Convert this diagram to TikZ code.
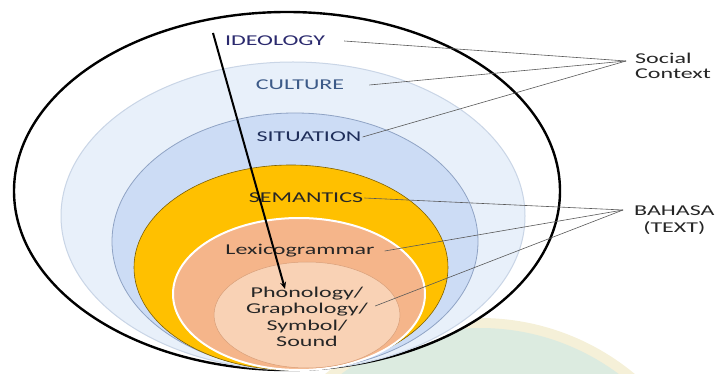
\documentclass[tikz,border=0pt]{standalone}
\usepackage{fontspec}
\newfontfamily\lblfont[FakeStretch=1.6]{Carlito}
\usetikzlibrary{positioning, arrows.meta, shapes.geometric}

\definecolor{ideoblue}{HTML}{2B2A6E}
\definecolor{cultblue}{HTML}{3C5A88}
\definecolor{situblue}{HTML}{1F2E5A}
\definecolor{cultfill}{HTML}{E8F0FA}
\definecolor{cultline}{HTML}{C9D5E6}
\definecolor{situfill}{HTML}{CCDCF5}
\definecolor{situline}{HTML}{8FA3C4}
\definecolor{semafill}{HTML}{FFC000}
\definecolor{semaline}{HTML}{7F6000}
\definecolor{lexifill}{HTML}{F5B58A}
\definecolor{phonfill}{HTML}{F9D2B5}
\definecolor{phonline}{HTML}{D9A07A}
\definecolor{wmgreen}{HTML}{DCEBE0}
\definecolor{wmyellow}{HTML}{F5F0D8}

\begin{document}
\begin{tikzpicture}[
  x=1pt, y=-1pt,
  font=\lblfont\fontsize{15}{16.5}\selectfont,
  ring/.style={ellipse, inner sep=0pt},
  lbl/.style={inner sep=1pt, align=center, text=black!85},
  lnk/.style={gray!70!black, line width=0.6pt}
]
\useasboundingbox (0,0) rectangle (715,374);

% --- watermark behind the rings ---
\begin{scope}
  \clip (0,0) rectangle (715,374);
  \fill[wmyellow] (480,560) circle (242);
  \fill[wmgreen]  (480,560) circle (232);
\end{scope}

% --- nested rings, outside in ---
\node[ring, draw=black, line width=2.4pt, fill=white,
      minimum width=546, minimum height=358] (outer) at (287,191) {};
\node[ring, draw=cultline, line width=1pt, fill=cultfill,
      minimum width=464, minimum height=308] (culture) at (293,216) {};
\node[ring, draw=situline, line width=0.8pt, fill=situfill,
      minimum width=366, minimum height=257] (situation) at (295,241.5) {};
\node[ring, draw=semaline, line width=0.6pt, fill=semafill,
      minimum width=314, minimum height=205] (semantics) at (291,267.5) {};
\node[ring, draw=white, line width=2pt, fill=lexifill,
      minimum width=252, minimum height=152] (lexico) at (299,294) {};
\node[ring, draw=phonline, line width=0.5pt, fill=phonfill,
      minimum width=186, minimum height=106] (phono) at (307,315) {};

% --- ring labels ---
\node[lbl, text=ideoblue] (tideo) at (275,41)  {IDEOLOGY};
\node[lbl, text=cultblue] (tcult) at (300,85)  {CULTURE};
\node[lbl, text=situblue] (tsitu) at (309,137) {SITUATION};
\node[lbl]                (tsema) at (306,198) {SEMANTICS};
\node[lbl]                (tlexi) at (300,251) {Lexicogrammar};
\node[lbl]                (tphon) at (307,317) {Phonology/\\Graphology/\\Symbol/\\Sound};

% thick pointer through the layers
\coordinate (top) at (213,33);
\draw[line width=2pt, -{Stealth[length=7pt, width=6pt]}] (top) -- (285,289);

% --- side labels ---
\node[lbl, align=left, anchor=west, font=\lblfont\fontsize{15}{15}\selectfont]
  (social) at (634,66) {Social\\Context};
\node[lbl, anchor=west] (bahasa) at (633,220) {BAHASA\\(TEXT)};
\coordinate (sc) at (626,61);
\coordinate (bh) at (623,210);

\draw[lnk] ([xshift=18pt]tideo.east) -- (sc);
\draw[lnk] ([xshift=24pt]tcult.east) -- (sc);
\draw[lnk] (tsitu.east) -- (sc);
\draw[lnk] (tsema.east) -- (bh);
\draw[lnk] ([xshift=9pt]tlexi.east) -- (bh);
\draw[lnk] ([xshift=6pt, yshift=11pt]tphon.east) -- (bh);
\end{tikzpicture}
\end{document}
